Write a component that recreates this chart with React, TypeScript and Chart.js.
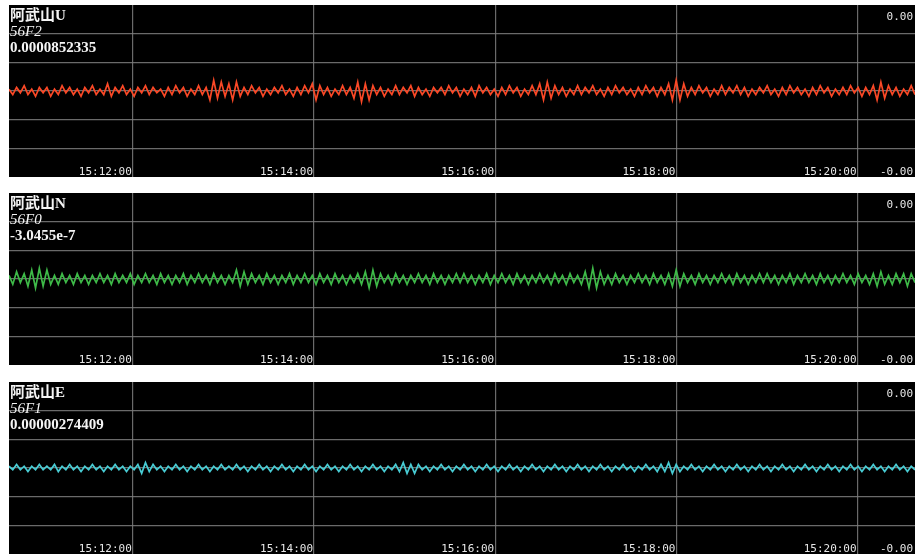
import { useEffect, useRef } from "react";
import { Chart, registerables } from "chart.js";

Chart.register(...registerables);

// ---- data ----
const START_SECONDS = 15 * 3600 + 10 * 60 + 38; // 15:10:38
const SPAN_SECONDS = 600;
const timeTicks = [82, 202, 322, 442, 562]; // 15:12:00 ... 15:20:00
const yMin = -48;
const yMax = 48;
const yStep = 16;
const yTopLabel = "0.00";
const yBottomLabel = "-0.00";

const stationNames = ["阿武山U", "阿武山N", "阿武山E"];
const channelCodes = ["56F2", "56F0", "56F1"];
const latestValues = ["0.0000852335", "-3.0455e-7", "0.00000274409"];
const lineColors = ["rgb(250,72,38)", "rgb(62,186,72)", "rgb(72,204,212)"];

const seriesU = [
  1, -2, 2, -1, 3, -2, 1, -3, 2, -1, 2, -3, 1, -2, 3, -1, 2, -2, 1, -3,
  2, -1, 3, -2, 1, -2, 4, -3, 2, -1, 3, -2, 1, -3, 2, -1, 3, -2, 2, -1,
  1, -3, 2, -2, 3, -1, 2, -3, 1, -2, 3, -2, 2, -5, 6, -4, 5, -3, 4, -5,
  5, -3, 2, -2, 3, -1, 2, -3, 1, -2, 2, -1, 3, -2, 1, -3, 2, -2, 3, -1,
  4, -5, 3, -2, 2, -3, 1, -2, 3, -2, 2, -4, 5, -6, 4, -5, 3, -2, 2, -3,
  1, -2, 3, -2, 2, -1, 3, -3, 2, -2, 1, -3, 2, -1, 2, -2, 3, -1, 2, -3,
  1, -2, 2, -3, 3, -1, 2, -2, 1, -3, 2, -2, 3, -1, 2, -3, 1, -2, 3, -2,
  4, -5, 5, -4, 3, -2, 2, -3, 1, -2, 3, -2, 2, -1, 3, -2, 1, -3, 2, -2,
  3, -1, 2, -2, 1, -3, 2, -2, 3, -1, 2, -3, 2, -2, 4, -5, 6, -5, 4, -3,
  2, -2, 3, -1, 2, -3, 1, -2, 3, -2, 2, -1, 3, -2, 2, -3, 1, -2, 2, -1,
  3, -2, 1, -3, 2, -2, 3, -1, 2, -2, 1, -3, 2, -2, 3, -1, 2, -3, 1, -2,
  2, -2, 3, -1, 2, -3, 2, -2, 3, -5, 5, -4, 3, -2, 2, -3, 1, -2, 3, -2,
];

const seriesN = [
  2, -3, 4, -2, 3, -4, 5, -5, 6, -4, 5, -3, 2, -3, 3, -2, 2, -3, 3, -2,
  2, -3, 2, -2, 3, -2, 2, -3, 3, -2, 2, -2, 3, -3, 2, -2, 3, -2, 2, -3,
  3, -2, 2, -3, 2, -2, 3, -3, 2, -2, 3, -2, 2, -3, 3, -2, 2, -3, 2, -2,
  5, -4, 4, -3, 3, -2, 2, -3, 3, -2, 2, -3, 2, -2, 3, -3, 2, -2, 3, -2,
  2, -3, 3, -2, 2, -3, 3, -2, 2, -3, 2, -2, 3, -3, 4, -5, 5, -4, 3, -2,
  2, -3, 3, -2, 2, -3, 2, -2, 3, -2, 2, -3, 3, -2, 2, -3, 2, -2, 3, -2,
  3, -2, 2, -3, 2, -2, 3, -3, 2, -2, 3, -2, 2, -3, 3, -2, 2, -3, 2, -2,
  3, -2, 2, -3, 3, -2, 2, -3, 3, -2, 2, -3, 4, -5, 6, -5, 4, -3, 2, -3,
  3, -2, 2, -3, 2, -2, 3, -2, 2, -3, 3, -2, 2, -3, 3, -4, 5, -4, 3, -2,
  2, -3, 3, -2, 2, -3, 2, -2, 3, -2, 2, -3, 3, -2, 2, -3, 2, -2, 3, -2,
  3, -2, 2, -3, 2, -2, 3, -3, 2, -2, 3, -2, 2, -3, 3, -2, 2, -3, 2, -2,
  3, -2, 2, -3, 3, -2, 2, -3, 3, -4, 4, -3, 2, -3, 3, -2, 3, -4, 3, -2,
];

const seriesE = [
  1, -1, 2, -1, 1, -2, 1, -1, 2, -1, 1, -1, 2, -2, 1, -1, 2, -1, 1, -2,
  1, -1, 2, -1, 1, -2, 1, -1, 2, -1, 1, -2, 1, -1, 2, -3, 3, -2, 2, -1,
  1, -2, 1, -1, 2, -1, 1, -2, 1, -1, 2, -1, 1, -2, 1, -1, 2, -1, 1, -1,
  2, -1, 1, -2, 1, -1, 2, -1, 1, -2, 1, -1, 2, -1, 1, -2, 1, -1, 2, -1,
  1, -2, 1, -1, 2, -1, 1, -2, 1, -1, 2, -1, 1, -2, 1, -1, 2, -1, 1, -2,
  1, -1, 2, -2, 3, -3, 2, -3, 2, -1, 1, -2, 1, -1, 2, -1, 1, -2, 1, -1,
  2, -1, 1, -2, 1, -1, 2, -1, 1, -2, 1, -1, 2, -1, 1, -2, 1, -1, 2, -1,
  1, -2, 1, -1, 2, -1, 1, -2, 1, -1, 2, -1, 1, -2, 1, -1, 2, -1, 1, -2,
  1, -1, 2, -1, 1, -2, 1, -1, 2, -1, 1, -2, 2, -2, 3, -3, 2, -2, 1, -1,
  2, -1, 1, -2, 1, -1, 2, -1, 1, -2, 1, -1, 2, -1, 1, -2, 1, -1, 2, -1,
  1, -2, 1, -1, 2, -1, 1, -2, 1, -1, 2, -1, 1, -2, 1, -1, 2, -1, 1, -2,
  1, -1, 2, -1, 1, -2, 1, -1, 2, -1, 1, -2, 1, -1, 2, -1, 1, -2, 1, -1,
];

const allSeries = [seriesU, seriesN, seriesE];

function formatTime(offset: number): string {
  const t = START_SECONDS + offset;
  const h = Math.floor(t / 3600);
  const m = Math.floor((t % 3600) / 60);
  const s = Math.floor(t % 60);
  const p = (n: number) => String(n).padStart(2, "0");
  return `${p(h)}:${p(m)}:${p(s)}`;
}

const PANEL_W = 906;
const PANEL_H = 172;
const panelTops = [5, 193, 382];

function Panel({ index }: { index: number }) {
  const ref = useRef<HTMLCanvasElement | null>(null);
  useEffect(() => {
    if (!ref.current) return;
    const values = allSeries[index];
    const n = values.length;
    const points = values.map((v, i) => ({ x: (i * SPAN_SECONDS) / (n - 1), y: v }));

    const overlay = {
      id: "overlay",
      afterDraw(chart: any) {
        const { ctx, chartArea, scales } = chart;
        ctx.save();
        ctx.fillStyle = "#f4f4f4";
        ctx.textAlign = "left";
        ctx.textBaseline = "alphabetic";
        const left = chartArea.left + 1;
        ctx.font = 'bold 15px "Liberation Serif", "Noto Sans CJK SC", serif';
        ctx.fillText(stationNames[index], left, chartArea.top + 15);
        ctx.font = 'italic 15px "Liberation Serif", serif';
        ctx.fillText(channelCodes[index], left, chartArea.top + 31);
        ctx.font = 'bold 15px "Liberation Serif", serif';
        ctx.fillText(latestValues[index], left, chartArea.top + 47);

        ctx.font = '11px "DejaVu Sans Mono", monospace';
        ctx.fillStyle = "#e6e6e6";
        ctx.textAlign = "right";
        for (const t of timeTicks) {
          const x = scales.x.getPixelForValue(t);
          ctx.fillText(formatTime(t), x - 1, chartArea.bottom - 2);
        }
        ctx.fillText(yTopLabel, chartArea.right - 2, chartArea.top + 15);
        ctx.fillText(yBottomLabel, chartArea.right - 2, chartArea.bottom - 2);
        ctx.restore();
      },
    };

    const chart = new Chart(ref.current, {
      type: "line",
      data: {
        datasets: [
          {
            data: points,
            borderColor: lineColors[index],
            borderWidth: 1.7,
            pointRadius: 0,
            tension: 0,
            fill: false,
          },
        ],
      },
      options: {
        animation: false,
        responsive: false,
        maintainAspectRatio: false,
        layout: { padding: 0 },
        plugins: { legend: { display: false }, tooltip: { enabled: false } },
        scales: {
          x: {
            type: "linear",
            min: 0,
            max: SPAN_SECONDS,
            afterBuildTicks(scale: any) {
              scale.ticks = timeTicks.map((v) => ({ value: v }));
            },
            grid: { color: "rgba(125,125,125,0.85)", lineWidth: 1.2, drawTicks: false },
            border: { display: false },
            ticks: { display: false },
          },
          y: {
            type: "linear",
            min: yMin,
            max: yMax,
            ticks: { display: false, stepSize: yStep },
            grid: {
              color: (c: any) =>
                c.tick && (c.tick.value === yMin || c.tick.value === yMax)
                  ? "rgba(0,0,0,0)"
                  : "rgba(125,125,125,0.85)",
              lineWidth: 1.2,
              drawTicks: false,
            },
            border: { display: false },
          },
        },
      },
      plugins: [overlay],
    } as any);
    return () => chart.destroy();
  }, [index]);

  return (
    <canvas
      ref={ref}
      width={PANEL_W}
      height={PANEL_H}
      style={{
        position: "absolute",
        left: 9,
        top: panelTops[index],
        width: PANEL_W,
        height: PANEL_H,
        background: "#000",
      }}
    />
  );
}

export default function App() {
  return (
    <div
      style={{
        position: "absolute",
        left: 0,
        top: 0,
        width: 915,
        height: 554,
        background: "#fff",
        overflow: "hidden",
      }}
    >
      <Panel index={0} />
      <Panel index={1} />
      <Panel index={2} />
    </div>
  );
}
